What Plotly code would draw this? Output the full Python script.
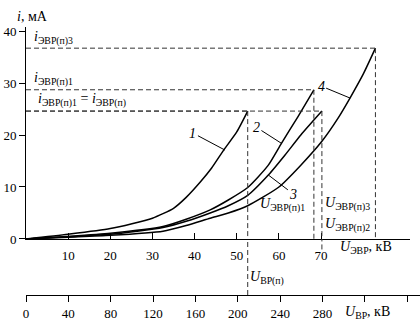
import plotly.graph_objects as go

# ---- data ----
u1 = [0, 10, 20, 30, 35, 38, 41.4, 44, 46.9, 50, 52.6]
i1 = [0, 0.9, 2.0, 4.0, 5.9, 8.0, 11.0, 13.6, 17.1, 20.6, 24.6]

u2 = [0, 10, 20, 32.5, 38, 43.7, 48, 52.6, 57.4, 60.6, 64.5, 68.3]
i2 = [0, 0.5, 1.1, 2.4, 3.8, 5.6, 7.5, 9.9, 14.1, 18.4, 23.5, 28.7]

u3 = [0, 10, 20, 32.5, 38, 43.7, 48, 52.6, 57.6, 61.5, 65.2, 70.2]
i3 = [0, 0.45, 0.9, 2.2, 3.4, 5.0, 6.4, 8.4, 12.4, 16.2, 20.0, 24.6]

u4 = [0, 10, 20, 32.5, 38, 43.7, 48, 52.6, 60, 65.2, 70.2, 74, 77, 80, 82.9]
i4 = [0, 0.35, 0.7, 1.5, 2.6, 4.0, 5.0, 6.4, 10.0, 14.2, 18.8, 23.2, 27.3, 31.7, 36.7]

curve_names = ["1", "2", "3", "4"]
# points where the curve labels' leaders touch the curves
label_u = [47.2, 60.6, 57.5, 76.9]
label_i = [17.1, 18.4, 12.3, 27.1]

upper_ticks = [10, 20, 30, 40, 50, 60, 70]
y_ticks = [0, 10, 20, 30, 40]
lower_ticks = [0, 40, 80, 120, 160, 200, 240, 280, 320, 360]
lower_ticktext = ["0", "40", "80", "120", "160", "200", "240", "280", "", ""]

FONT = "Liberation Serif"
curves = [(u1, i1), (u2, i2), (u3, i3), (u4, i4)]

fig = go.Figure()
for u, i in curves:
    fig.add_trace(go.Scatter(x=u, y=i, mode="lines",
                             line=dict(color="black", width=1.5, shape="spline", smoothing=0.6),
                             showlegend=False, hoverinfo="skip"))
# invisible trace so the lower kV axis is drawn
fig.add_trace(go.Scatter(x=[0], y=[0], xaxis="x2", yaxis="y", mode="markers",
                         marker=dict(opacity=0), showlegend=False, hoverinfo="skip"))

dash = dict(color="#333333", width=1, dash="5px,3px")
shapes = []
for u, i in curves:
    ue, ie = u[-1], i[-1]
    shapes.append(dict(type="line", xref="x", yref="y", x0=0, x1=ue, y0=ie, y1=ie, line=dash))
    shapes.append(dict(type="line", xref="x", yref="y", x0=ue, x1=ue, y0=ie, y1=0, line=dash))
# U_ВР(п) line continues down to the lower axis
shapes.append(dict(type="line", xref="x", yref="paper", x0=u1[-1], x1=u1[-1], y0=0, y1=0.209, line=dash))
shapes.append(dict(type="line", xref="x", yref="paper", x0=u3[-1], x1=u3[-1], y0=0.17, y1=0.209, line=dash))

ann = []
offs = [(-32, -17), (-25, -16), (25, 19), (-29, -12)]
for name, ux, iy, (ax, ay) in zip(curve_names, label_u, label_i, offs):
    ann.append(dict(x=ux, y=iy, xref="x", yref="y", text="<i>%s</i>" % name,
                    showarrow=True, arrowhead=0, arrowwidth=1, arrowcolor="black",
                    ax=ax, ay=ay, font=dict(size=14, family=FONT, color="black")))

def txt(x, y, s, size=14, xanchor="left", yanchor="middle", xref="x", yref="y"):
    ann.append(dict(x=x, y=y, xref=xref, yref=yref, text=s, showarrow=False,
                    xanchor=xanchor, yanchor=yanchor,
                    font=dict(size=size, family=FONT, color="black")))

txt(-0.028, 1.041, "<i>i</i>, мА", xref="paper", yref="paper")
txt(1.5, 38.6, "<i>i</i><sub>ЭВР(п)3</sub>")
txt(1.5, 30.8, "<i>i</i><sub>ЭВР(п)1</sub>")
txt(2.4, 26.7, "<i>i</i><sub>ЭВР(п)1</sub> = <i>i</i><sub>ЭВР(п)</sub>")
txt(55.1, 6.6, "<i>U</i><sub>ЭВР(п)1</sub>")
txt(70.4, 6.8, "<i>U</i><sub>ЭВР(п)3</sub>")
txt(70.4, 2.7, "<i>U</i><sub>ЭВР(п)2</sub>")
txt(0.792, 0.179, "<i>U</i><sub>ЭВР</sub>, кВ", xref="paper", yref="paper")
txt(0.563, 0.063, "<i>U</i><sub>ВР(п)</sub>", xref="paper", yref="paper")
txt(0.805, -0.067, "<i>U</i><sub>ВР</sub>, кВ", xref="paper", yref="paper")

axis_common = dict(showline=True, linecolor="black", linewidth=1, showgrid=False,
                   zeroline=False, tickcolor="black", tickwidth=1, ticklen=6,
                   tickfont=dict(size=13, family=FONT, color="black"))

fig.update_layout(
    width=420, height=323,
    margin=dict(l=26, r=0, t=27, b=28),
    paper_bgcolor="white", plot_bgcolor="rgba(0,0,0,0)",
    font=dict(family=FONT, size=13, color="black"),
    shapes=shapes, annotations=ann,
    xaxis=dict(domain=[0, 0.9746], range=[0, 91.1], tickvals=upper_ticks,
               ticks="inside", anchor="y", ticklabelstandoff=4, **axis_common),
    yaxis=dict(domain=[0.209, 1], range=[0, 40.77], tickvals=y_ticks,
               ticks="outside", anchor="x", **axis_common),
    xaxis2=dict(domain=[0, 1], range=[0, 372], tickvals=lower_ticks, ticktext=lower_ticktext,
                ticks="outside", anchor="free", position=0, **axis_common),
)

fig.write_html("out.html")
